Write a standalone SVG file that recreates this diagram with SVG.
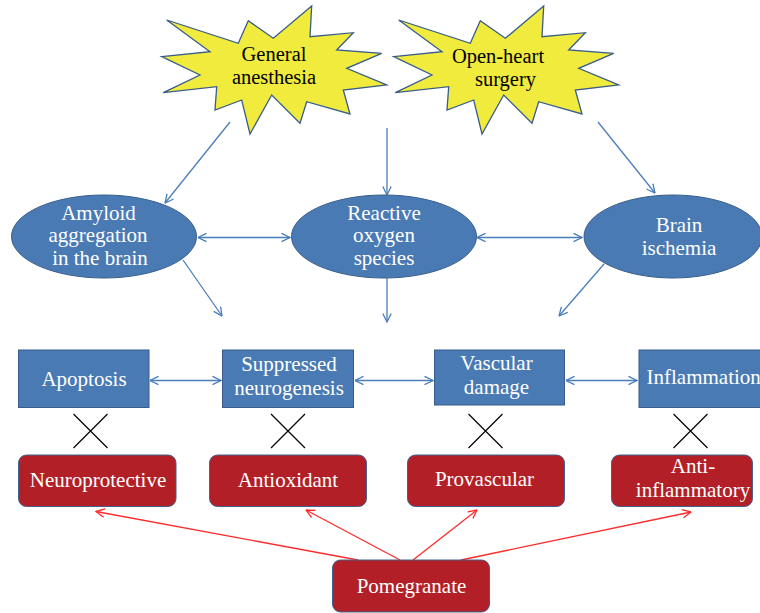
<svg xmlns="http://www.w3.org/2000/svg" width="760" height="613" viewBox="0 0 760 613">
<defs>
<marker id="ab" viewBox="0 0 10 10" refX="9.5" refY="5" markerWidth="10" markerHeight="10" markerUnits="userSpaceOnUse" orient="auto-start-reverse">
<path d="M1,0.8 L9.5,5 L1,9.2" fill="none" stroke="#4a7ebb" stroke-width="1.3"/>
</marker>
<marker id="ar" viewBox="0 0 10 10" refX="9.5" refY="5" markerWidth="10" markerHeight="10" markerUnits="userSpaceOnUse" orient="auto">
<path d="M1,0.8 L9.5,5 L1,9.2" fill="none" stroke="#ff2b2b" stroke-width="1.3"/>
</marker>
</defs>
<style>
text{font-family:"Liberation Serif","Times New Roman",serif;font-size:21px;text-anchor:middle}
.s{font-size:20.5px}
.star{fill:#f0eb3c;stroke:#385d8a;stroke-width:1.3}
.blue{fill:#4a7ab4;stroke:#385d8a;stroke-width:1}
.red{fill:#b31f26;stroke:#3f628e;stroke-width:1}
.w{fill:#ffffff}
.k{fill:#000000}
.cb{stroke:#4a7ebb;stroke-width:1.3;fill:none}
.cr{stroke:#ff2b2b;stroke-width:1.3;fill:none}
.x{stroke:#000;stroke-width:1.2}
</style>
<rect width="760" height="613" fill="#ffffff"/>
<g id="connectors">
<line class="cb" x1="230" y1="122" x2="165" y2="203" marker-end="url(#ab)"/>
<line class="cb" x1="387" y1="128" x2="387" y2="195" marker-end="url(#ab)"/>
<line class="cb" x1="598" y1="122" x2="655" y2="193" marker-end="url(#ab)"/>
<line class="cb" x1="198" y1="237.5" x2="290" y2="237.5" marker-start="url(#ab)" marker-end="url(#ab)"/>
<line class="cb" x1="477" y1="237.5" x2="582" y2="237.5" marker-start="url(#ab)" marker-end="url(#ab)"/>
<line class="cb" x1="183" y1="260" x2="222" y2="316" marker-end="url(#ab)"/>
<line class="cb" x1="387" y1="278" x2="387" y2="322" marker-end="url(#ab)"/>
<line class="cb" x1="604" y1="264" x2="559" y2="316" marker-end="url(#ab)"/>
<line class="cb" x1="150" y1="380.5" x2="221" y2="380.5" marker-start="url(#ab)" marker-end="url(#ab)"/>
<line class="cb" x1="355" y1="380.5" x2="433" y2="380.5" marker-start="url(#ab)" marker-end="url(#ab)"/>
<line class="cb" x1="566" y1="380.5" x2="637" y2="380.5" marker-start="url(#ab)" marker-end="url(#ab)"/>
<line class="cr" x1="358" y1="560" x2="96" y2="511.5" marker-end="url(#ar)"/>
<line class="cr" x1="400" y1="560" x2="306" y2="510" marker-end="url(#ar)"/>
<line class="cr" x1="413" y1="560" x2="477" y2="510" marker-end="url(#ar)"/>
<line class="cr" x1="461" y1="560" x2="691" y2="512" marker-end="url(#ar)"/>
<g id="crosses">
<path class="x" d="M73.5,414 L107.5,448 M107.5,414 L73.5,448"/>
<path class="x" d="M271,414 L305,448 M305,414 L271,448"/>
<path class="x" d="M468.5,414 L502.5,448 M502.5,414 L468.5,448"/>
<path class="x" d="M673.5,414 L707.5,448 M707.5,414 L673.5,448"/>
</g>
</g>
<g id="general-anesthesia">
<polygon class="star" points="166.7,20 238.3,43.3 248.3,20.7 273.3,38.3 311.7,6 310,36.7 353.3,32.7 336.7,50 381.7,53.3 346.7,68.3 386.7,85 343.3,90 350,114 306.7,101.7 300,123.3 271.7,95 250,134 241.7,100 215,110 216.7,86.7 163.3,92.7 200,75 161.7,56.7 210,51.7"/>
<text class="k s" x="274" y="61">General</text>
<text class="k s" x="274" y="83.5">anesthesia</text>
</g>
<g id="open-heart-surgery">
<polygon class="star" transform="translate(232,0)" points="166.7,20 238.3,43.3 248.3,20.7 273.3,38.3 311.7,6 310,36.7 353.3,32.7 336.7,50 381.7,53.3 346.7,68.3 386.7,85 343.3,90 350,114 306.7,101.7 300,123.3 271.7,95 250,134 241.7,100 215,110 216.7,86.7 163.3,92.7 200,75 161.7,56.7 210,51.7"/>
<text class="k s" x="498" y="63">Open-heart</text>
<text class="k s" x="505.5" y="85.5">surgery</text>
</g>
<g id="amyloid">
<ellipse class="blue" cx="104" cy="236.5" rx="92.5" ry="41.5"/>
<text class="w" x="98.5" y="219.5">Amyloid</text>
<text class="w" x="98" y="242">aggregation</text>
<text class="w" x="100" y="265">in the brain</text>
</g>
<g id="ros">
<ellipse class="blue" cx="384" cy="236.5" rx="92.5" ry="41.5"/>
<text class="w" x="384" y="219.5">Reactive</text>
<text class="w" x="384" y="242">oxygen</text>
<text class="w" x="384" y="265">species</text>
</g>
<g id="ischemia">
<ellipse class="blue" cx="673" cy="236.5" rx="89" ry="41.5"/>
<text class="w" x="679" y="232">Brain</text>
<text class="w" x="679" y="255">ischemia</text>
</g>
<g id="apoptosis">
<rect class="blue" x="18.5" y="350" width="130.5" height="57.5"/>
<text class="w" x="84" y="385.5">Apoptosis</text>
</g>
<g id="neurogenesis">
<rect class="blue" x="222.5" y="350" width="131" height="57.5"/>
<text class="w" x="289" y="371">Suppressed</text>
<text class="w" x="289" y="395">neurogenesis</text>
</g>
<g id="vascular">
<rect class="blue" x="434.5" y="350" width="130" height="55"/>
<text class="w" x="496.5" y="369.5">Vascular</text>
<text class="w" x="496.5" y="393.5">damage</text>
</g>
<g id="inflammation">
<rect class="blue" x="639" y="350" width="130" height="57.5"/>
<text class="w" x="646.5" y="383.5" style="text-anchor:start">Inflammation</text>
</g>
<g id="neuroprotective">
<rect class="red" x="18.5" y="455" width="157.5" height="51.5" rx="8"/>
<text class="w" x="98" y="487">Neuroprotective</text>
</g>
<g id="antioxidant">
<rect class="red" x="209.5" y="455" width="157" height="51.5" rx="8"/>
<text class="w" x="288" y="487">Antioxidant</text>
</g>
<g id="provascular">
<rect class="red" x="407.5" y="455" width="157" height="51.5" rx="8"/>
<text class="w" x="484.5" y="486">Provascular</text>
</g>
<g id="anti-inflammatory">
<rect class="red" x="611.5" y="455" width="141" height="51.5" rx="8"/>
<text class="w" x="693" y="473">Anti-</text>
<text class="w" x="693" y="496.5">inflammatory</text>
</g>
<g id="pomegranate">
<rect class="red" x="332.5" y="560" width="157" height="52" rx="8"/>
<text class="w" x="411.5" y="593">Pomegranate</text>
</g>
</svg>
